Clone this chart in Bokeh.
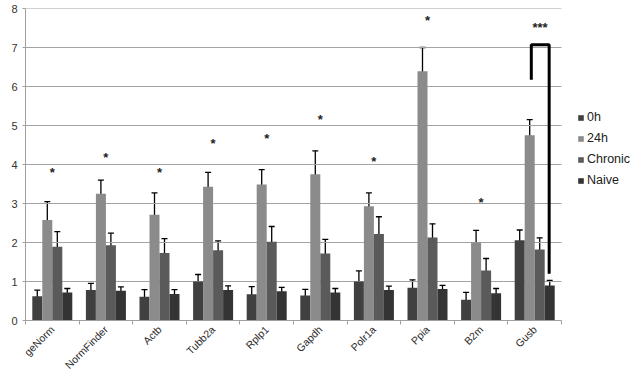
import math
from bokeh.plotting import figure
from bokeh.models import (ColumnDataSource, Whisker, TeeHead, FixedTicker, Range1d,
                          Legend, LegendItem)
from bokeh.core.properties import value
from bokeh.embed import file_html
from bokeh.resources import INLINE

categories = ["geNorm", "NormFinder", "Actb", "Tubb2a", "Rplp1", "Gapdh",
              "Polr1a", "Ppia", "B2m", "Gusb"]
series = ["0h", "24h", "Chronic", "Naive"]
colors = ["#404040", "#8b8b8b", "#5a5a5a", "#343434"]

vals_0h = [0.62, 0.78, 0.61, 1.00, 0.67, 0.64, 1.00, 0.84, 0.53, 2.06]
err_0h = [0.16, 0.17, 0.18, 0.18, 0.20, 0.16, 0.27, 0.20, 0.19, 0.26]
vals_24h = [2.58, 3.25, 2.71, 3.43, 3.49, 3.75, 2.93, 6.39, 2.00, 4.75]
err_24h = [0.47, 0.35, 0.56, 0.37, 0.38, 0.60, 0.34, 0.61, 0.31, 0.40]
vals_chronic = [1.89, 1.93, 1.73, 1.80, 2.02, 1.72, 2.22, 2.13, 1.28, 1.82]
err_chronic = [0.39, 0.31, 0.37, 0.24, 0.39, 0.36, 0.44, 0.35, 0.31, 0.30]
vals_naive = [0.72, 0.76, 0.68, 0.78, 0.75, 0.72, 0.78, 0.81, 0.70, 0.90]
err_naive = [0.10, 0.10, 0.11, 0.11, 0.10, 0.10, 0.10, 0.09, 0.12, 0.13]

star_labels = ["*", "*", "*", "*", "*", "*", "*", "*", "*", "***"]
star_heights = [3.86, 4.25, 3.86, 4.62, 4.74, 5.24, 4.16, 7.77, 3.09, 7.59]

# significance bracket over Gusb (y values)
bracket_top = 7.07
bracket_left_bottom = 6.17
bracket_right_bottom = 1.20

y_ticks = [0, 1, 2, 3, 4, 5, 6, 7, 8]

all_vals = [vals_0h, vals_24h, vals_chronic, vals_naive]
all_errs = [err_0h, err_24h, err_chronic, err_naive]

n = len(categories)
bar_w = 0.1866
offsets = [-1.5 * bar_w, -0.5 * bar_w, 0.5 * bar_w, 1.5 * bar_w]
centers = [i + 0.5 for i in range(n)]

p = figure(width=633, height=378, output_backend="svg", toolbar_location=None,
           x_range=Range1d(0, 608 / 53.6), y_range=Range1d(0, 8),
           min_border_left=25, min_border_right=0, min_border_top=8,
           min_border_bottom=55)
p.outline_line_color = None
p.xgrid.visible = False
p.ygrid.visible = False
p.background_fill_color = "white"

# gridlines
gy = [t for t in y_ticks if t > 0]
p.segment(x0=[0] * len(gy), x1=[n] * len(gy), y0=gy, y1=gy,
          line_color="#a3a3a3", line_width=1.2)

renderers = []
for k, s in enumerate(series):
    xs = [c + offsets[k] for c in centers]
    src = ColumnDataSource(dict(x=xs, top=all_vals[k],
                                upper=[v + e for v, e in zip(all_vals[k], all_errs[k])],
                                lower=[v - e for v, e in zip(all_vals[k], all_errs[k])]))
    r = p.vbar(x="x", top="top", bottom=0, width=bar_w, source=src,
               fill_color=colors[k], line_color=None)
    renderers.append(r)
    w = Whisker(base="x", upper="upper", lower="lower", source=src,
                line_color="black", line_width=1.3,
                upper_head=TeeHead(size=6, line_color="black", line_width=1.3),
                lower_head=TeeHead(size=6, line_color="black", line_width=1.3))
    p.add_layout(w)

# stars
star_x = [c + (0.1 if lab == "***" else 0) for c, lab in zip(centers, star_labels)]
p.text(x=star_x, y=star_heights, text=star_labels, text_align="center",
       text_baseline="middle", y_offset=3, text_font=value("Liberation Sans"),
       text_font_size="13px", text_font_style="bold", text_color="#222222")

# bracket
gc = centers[-1]
bx_left = gc + offsets[1] + 0.03
bx_right = gc + offsets[3] - 0.01
p.line(x=[bx_left, bx_left, bx_right, bx_right],
       y=[bracket_left_bottom, bracket_top, bracket_top, bracket_right_bottom],
       line_color="black", line_width=3)

# axes
xa = p.xaxis[0]
xa.ticker = FixedTicker(ticks=centers, minor_ticks=[float(i) for i in range(n + 1)])
xa.major_label_overrides = {c: lab for c, lab in zip(centers, categories)}
xa.major_label_orientation = math.pi / 4
xa.bounds = (0, n)
xa.axis_line_color = "#a0a0a0"
xa.major_tick_line_color = None
xa.major_tick_out = 0
xa.major_tick_in = 0
xa.minor_tick_line_color = "#a0a0a0"
xa.minor_tick_out = 4
xa.minor_tick_in = 0
xa.major_label_text_font = "Liberation Sans"
xa.major_label_text_font_size = "10.5px"
xa.major_label_text_color = "#2a2a2a"
xa.major_label_standoff = 3

ya = p.yaxis[0]
ya.ticker = FixedTicker(ticks=y_ticks)
ya.axis_line_color = "#a0a0a0"
ya.major_tick_line_color = "#a0a0a0"
ya.major_tick_out = 3
ya.major_tick_in = 0
ya.minor_tick_line_color = None
ya.major_label_text_font = "Liberation Sans"
ya.major_label_text_font_size = "11px"
ya.major_label_text_color = "#333333"
ya.major_label_standoff = 5

legend = Legend(items=[LegendItem(label=s, renderers=[r]) for s, r in zip(series, renderers)],
                location=(552, 133), glyph_width=7, glyph_height=7, label_height=14,
                spacing=7, padding=0, margin=0, label_standoff=3,
                label_text_font="Liberation Sans", label_text_font_size="12.5px",
                label_text_color="#222222", border_line_color=None,
                background_fill_alpha=0)
p.add_layout(legend)

open("out.html", "w").write(file_html(p, INLINE))
